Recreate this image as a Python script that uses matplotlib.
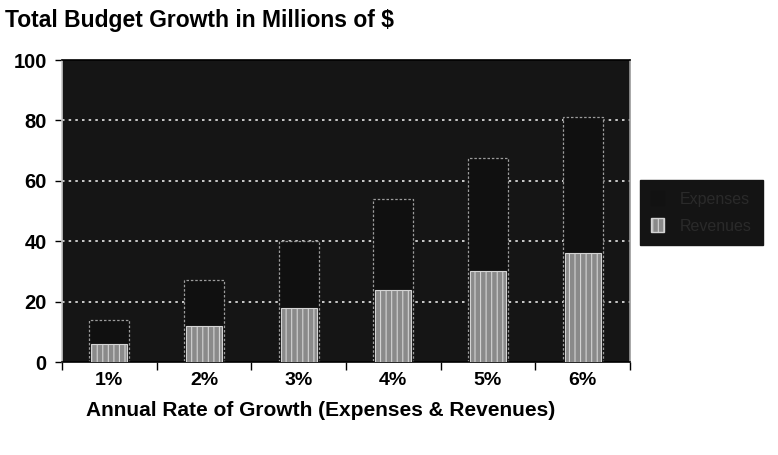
import matplotlib
matplotlib.use('AGG')

import numpy as np
import matplotlib.pyplot as plt
from matplotlib.patches import Patch

# Data
rates = ['1%', '2%', '3%', '4%', '5%', '6%']
expenses = [14, 27, 40, 54, 67.5, 81]
revenues = [6, 12, 18, 24, 30, 36]
yticks = [0, 20, 40, 60, 80, 100]

plt.rcParams['font.family'] = ['Liberation Sans', 'DejaVu Sans']
plt.rcParams['hatch.linewidth'] = 0.8

fig = plt.figure(figsize=(7.78, 4.55), dpi=100)
ax = fig.add_axes([62 / 778, 1 - 362 / 455, 568 / 778, 302 / 455])
ax.set_facecolor('#151515')

x = np.arange(len(rates))
width = 0.42

ax.bar(x, expenses, width=width, color='#101010', edgecolor='#9c9c9c',
       linewidth=0.9, linestyle=(0, (2, 1.5)), zorder=2, label='Expenses')
ax.bar(x, revenues, width=width * 0.9, color='#8a8a8a', edgecolor='#d4d4d4',
       hatch='|||', linewidth=0.8, zorder=3, label='Revenues')

ax.set_xlim(-0.5, len(rates) - 0.5)
ax.set_ylim(0, 100)
ax.set_yticks(yticks)
ax.set_yticklabels([str(v) for v in yticks], fontsize=14.5, fontweight='bold')
ax.set_xticks(x)
ax.set_xticklabels(rates, fontsize=14, fontweight='bold')
ax.set_xticks(np.arange(-0.5, len(rates), 1.0), minor=True)
ax.tick_params(axis='x', which='major', length=0, pad=7)
ax.tick_params(axis='x', which='minor', length=6, width=1, direction='out')
ax.tick_params(axis='y', length=5, width=1, pad=6)

for v in yticks[1:-1]:
    ax.axhline(v, color='#e8e8e8', linewidth=1.2, linestyle=(0, (1.5, 2.5)), zorder=1)

for s in ax.spines.values():
    s.set_color('black')
    s.set_linewidth(1.2)
ax.spines['left'].set_color('#c8c8c8')
ax.spines['right'].set_color('#9a9a9a')

fig.text(321 / 778, 1 - 411 / 455, 'Annual Rate of Growth (Expenses & Revenues)',
         fontsize=15, fontweight='bold', va='center', ha='center')

fig.text(5 / 778, 1 - 21 / 455, 'Total Budget Growth in Millions of $',
         fontsize=16.5, fontweight='bold', va='center', ha='left')

handles = [Patch(facecolor='#121212', edgecolor='#121212'),
           Patch(facecolor='#8a8a8a', edgecolor='#d4d4d4', hatch='|||')]
leg = fig.legend(handles, ['Expenses', 'Revenues'], loc='upper left',
                 bbox_to_anchor=(640 / 778, 1 - 180 / 455), fontsize=11.5,
                 frameon=True, facecolor='#141414', edgecolor='#141414',
                 framealpha=1, fancybox=False, handlelength=0.8, handleheight=1.0,
                 borderpad=0.7, labelspacing=0.7, handletextpad=1.0,
                 borderaxespad=0)
for t in leg.get_texts():
    t.set_color('#2a2a2a')

fig.savefig('out.png', dpi=100)
